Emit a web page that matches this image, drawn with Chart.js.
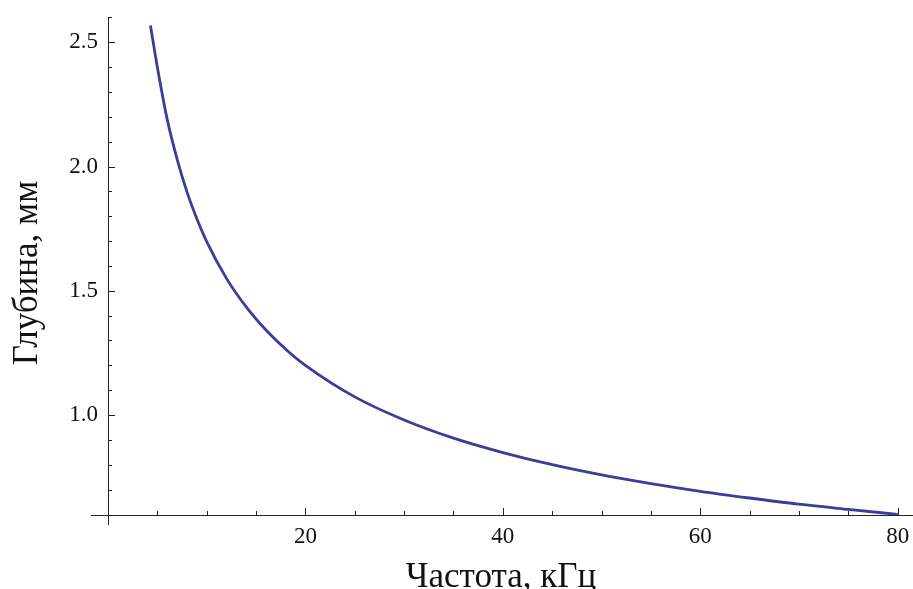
<!DOCTYPE html>
<html>
<head>
<meta charset="utf-8">
<script src="https://cdn.jsdelivr.net/npm/chart.js@4"></script>
<style>
html,body{margin:0;padding:0;background:#fff;}
#wrap{width:913px;height:589px;position:relative;}
</style>
</head>
<body>
<div id="wrap"><canvas id="c"></canvas></div>
<script>
// Data
const frequency = [4.3, 5, 6, 7, 8, 9, 10, 12, 14, 16, 18, 20, 25, 30, 35, 40, 45, 50, 55, 60, 65, 70, 75, 80];
const depth     = [2.568, 2.400, 2.190, 2.030, 1.898, 1.790, 1.698, 1.550, 1.435, 1.342, 1.265, 1.200, 1.073, 0.980, 0.907, 0.849, 0.800, 0.759, 0.724, 0.693, 0.666, 0.641, 0.620, 0.600];
const xTickLabels = [20, 40, 60, 80];
const yTickLabels = [1.0, 1.5, 2.0, 2.5];
const xTitle = 'Частота, кГц';
const yTitle = 'Глубина, мм';

const points = frequency.map((f, i) => ({x: f, y: depth[i]}));

const axesPlugin = {
  id: 'mmaAxes',
  afterDraw(chart) {
    const ctx = chart.ctx;
    const xs = chart.scales.x, ys = chart.scales.y;
    const ca = chart.chartArea;
    const x0 = xs.getPixelForValue(0);
    const y0 = ys.getPixelForValue(ys.min);
    ctx.save();
    ctx.strokeStyle = '#222';
    ctx.lineWidth = 1;
    ctx.beginPath();
    ctx.moveTo(x0 - 17, Math.round(y0) + 0.5);
    ctx.lineTo(ca.right, Math.round(y0) + 0.5);
    ctx.moveTo(Math.round(x0) + 0.5, ca.top);
    ctx.lineTo(Math.round(x0) + 0.5, y0 + 10);
    for (let v = 5; v <= 80; v += 5) {
      const px = Math.round(xs.getPixelForValue(v)) + 0.5;
      const len = (v % 20 === 0) ? 7 : 4;
      ctx.moveTo(px, y0);
      ctx.lineTo(px, y0 - len);
    }
    for (let k = 7; k <= 26; k++) {
      const v = k / 10;
      const py = Math.round(ys.getPixelForValue(v)) + 0.5;
      const len = (k % 5 === 0) ? 7 : 4;
      ctx.moveTo(x0, py);
      ctx.lineTo(x0 + len, py);
    }
    ctx.stroke();
    ctx.fillStyle = '#111';
    ctx.font = '35px "Liberation Serif"';
    ctx.textAlign = 'center';
    ctx.textBaseline = 'alphabetic';
    ctx.fillText(xTitle, 501, 587);
    ctx.translate(37, 273);
    ctx.rotate(-Math.PI / 2);
    ctx.fillText(yTitle, 0, 0);
    ctx.restore();
  }
};

new Chart(document.getElementById('c'), {
  type: 'scatter',
  data: {
    datasets: [{
      data: points,
      showLine: true,
      borderColor: 'rgb(61,61,153)',
      borderWidth: 2.8,
      pointRadius: 0,
      cubicInterpolationMode: 'monotone',
      fill: false
    }]
  },
  options: {
    responsive: true,
    maintainAspectRatio: false,
    animation: false,
    layout: {padding: {left: 0, right: 0, top: 17, bottom: 0}},
    plugins: {legend: {display: false}, tooltip: {enabled: false}},
    scales: {
      x: {
        type: 'linear',
        position: 'bottom',
        min: 0,
        max: 81.55,
        grid: {display: false, drawTicks: false},
        border: {display: false},
        afterBuildTicks: s => { s.ticks = xTickLabels.map(v => ({value: v})); },
        afterFit: s => { s.height = 74; s.paddingLeft = 0; s.paddingRight = 0; },
        ticks: {
          padding: 8,
          maxRotation: 0,
          color: '#111',
          font: {family: 'Liberation Serif', size: 23},
          callback: v => String(v)
        }
      },
      y: {
        type: 'linear',
        position: 'left',
        min: 0.5976,
        max: 2.602,
        grid: {display: false, drawTicks: false},
        border: {display: false},
        afterBuildTicks: s => { s.ticks = yTickLabels.map(v => ({value: v})); },
        afterFit: s => { s.width = 108; s.paddingTop = 0; s.paddingBottom = 0; },
        ticks: {
          padding: 10,
          color: '#111',
          font: {family: 'Liberation Serif', size: 23},
          callback: v => Number(v).toFixed(1)
        }
      }
    }
  },
  plugins: [axesPlugin]
});
</script>
</body>
</html>
